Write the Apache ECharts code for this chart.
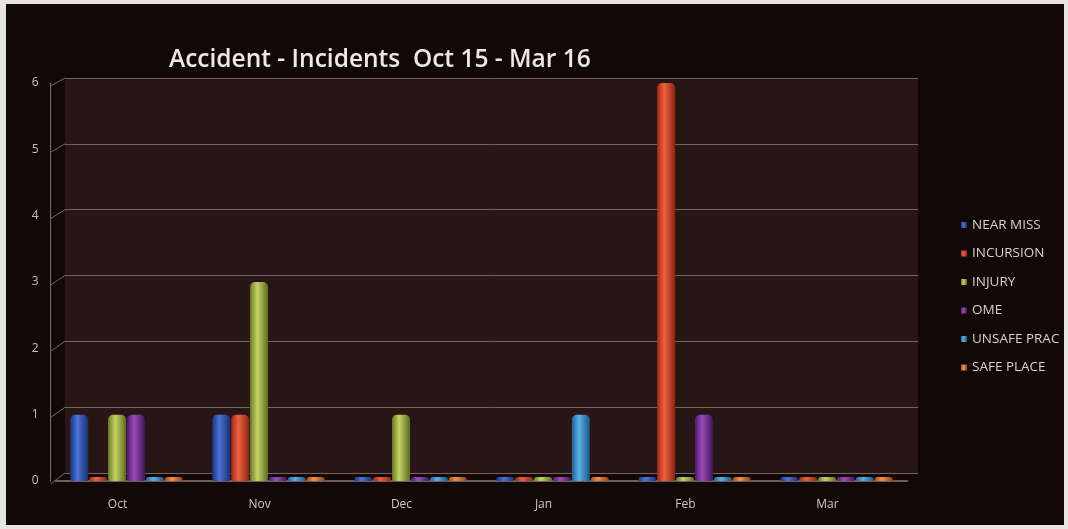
<!DOCTYPE html>
<html><head><meta charset="utf-8">
<script src="https://cdn.jsdelivr.net/npm/echarts@6/dist/echarts.min.js"></script>
<style>
html,body{margin:0;padding:0;background:#e6e4e2;width:1068px;height:529px;overflow:hidden}
#c{position:absolute;left:6px;top:4px;width:1058px;height:521px;background:#120808}
</style></head><body>
<div id="c"></div>
<script>
const categories = ['Oct','Nov','Dec','Jan','Feb','Mar'];
const seriesNames = ['NEAR MISS','INCURSION','INJURY','OME','UNSAFE PRAC','SAFE PLACE'];
const nearMiss   = [1,1,0,0,0,0];
const incursion  = [0,1,0,0,6,0];
const injury     = [1,3,1,0,0,0];
const ome        = [1,0,0,0,1,0];
const unsafePrac = [0,0,0,1,0,0];
const safePlace  = [0,0,0,0,0,0];
const yTicks = [0,1,2,3,4,5,6];
const colors = [
  ['#1c3480','#4a74d8','#1a2f70'],
  ['#9e2a16','#f0603c','#8a2412'],
  ['#6b7a24','#c4d266','#5e6b1e'],
  ['#4e1c66','#9a4cb8','#44175a'],
  ['#1f6298','#5cb0e6','#1b5686'],
  ['#a84a16','#f59048','#943f12']
];
const values = [nearMiss, incursion, injury, ome, unsafePrac, safePlace];

const chart = echarts.init(document.getElementById('c'));
chart.setOption({
  backgroundColor: '#120808',
  title: {
    text: 'Accident - Incidents  Oct 15 - Mar 16',
    left: 158, top: 39,
    textStyle: {color:'#efe9e6', fontFamily:'Open Sans', fontWeight:600, fontSize:24.5}
  },
  legend: {
    orient:'vertical', left: 950, top: 209, itemGap: 14.5,
    itemWidth: 6, itemHeight: 6, icon:'rect',
    textStyle:{color:'#d8d2cf', fontFamily:'Open Sans', fontSize:13.5},
    data: seriesNames
  },
  grid: [
    {left:49.5, right:156.5, top:79, bottom:44, show:false},
    {left:59, right:146, top:74, bottom:52, show:true, backgroundColor:'#281616', borderWidth:0}
  ],
  xAxis: [{
    type:'category', data: categories, gridIndex:0, offset:3,
    axisLine:{show:true, lineStyle:{color:'#8a7a78', width:1.5}},
    axisTick:{show:false},
    axisLabel:{color:'#cfc8c5', fontFamily:'Open Sans', fontSize:12, margin:15, padding:[0,18,0,0]}
  },{
    type:'category', data: categories, gridIndex:1, show:false
  }],
  yAxis: [{
    type:'value', min:0, max:6, interval:1, gridIndex:0, offset:5,
    axisLine:{show:true, lineStyle:{color:'#7a6a68'}},
    axisTick:{show:false},
    splitLine:{show:false},
    axisLabel:{color:'#c8c0bd', fontFamily:'Open Sans', fontSize:12, margin:12,
      formatter: v => yTicks.includes(v) ? String(v) : ''}
  },{
    type:'value', min:0, max:6, interval:1, gridIndex:1,
    axisLine:{show:false}, axisTick:{show:false}, axisLabel:{show:false},
    splitLine:{lineStyle:{color:'#76625f', width:1}}
  }],
  series: seriesNames.map((n,i)=>({
    name:n, type:'bar', data: values[i], xAxisIndex:0, yAxisIndex:0,
    barWidth:18, barGap:'5%', barMinHeight:4,
    itemStyle:{
      color: new echarts.graphic.LinearGradient(0,0,1,0,[
        {offset:0,color:colors[i][0]},{offset:0.4,color:colors[i][1]},{offset:1,color:colors[i][2]}
      ]),
      borderRadius:[5,5,2,2]
    }
  })),
  color: colors.map(c=>c[1])
});
// side-wall diagonals connecting front axis ticks to back-wall gridlines
const r0 = chart.getModel().getComponent('grid',0).coordinateSystem.getRect();
const r1 = chart.getModel().getComponent('grid',1).coordinateSystem.getRect();
const diag = yTicks.map(v => {
  const a = chart.convertToPixel({xAxisIndex:0, yAxisIndex:0}, [0, v]);
  const b = chart.convertToPixel({xAxisIndex:1, yAxisIndex:1}, [0, v]);
  return {type:'line', silent:true, z:1,
    shape:{x1:r0.x - 5, y1:a[1] + 3, x2:r1.x, y2:b[1]},
    style:{stroke:'#76625f', lineWidth:1}};
});
chart.setOption({graphic: diag});
</script>
</body></html>
